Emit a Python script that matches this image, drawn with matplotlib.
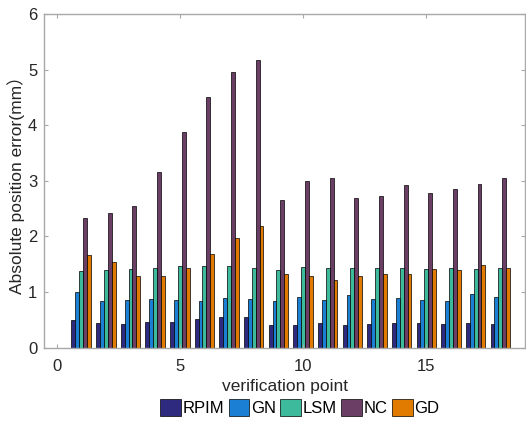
import numpy as np
import matplotlib.pyplot as plt

plt.rcParams['font.family'] = ['Liberation Sans', 'Noto Sans CJK SC', 'DejaVu Sans']

points = np.arange(1, 19)
series = ['RPIM', 'GN', 'LSM', 'NC', 'GD']
rpim = [0.50, 0.44, 0.43, 0.46, 0.46, 0.52, 0.56, 0.56, 0.41, 0.40, 0.44, 0.41, 0.43, 0.44, 0.44, 0.43, 0.44, 0.43]
gn = [1.00, 0.84, 0.85, 0.87, 0.85, 0.83, 0.89, 0.87, 0.83, 0.91, 0.85, 0.95, 0.87, 0.89, 0.86, 0.83, 0.97, 0.91]
lsm = [1.37, 1.39, 1.41, 1.44, 1.46, 1.47, 1.46, 1.44, 1.40, 1.45, 1.44, 1.43, 1.43, 1.43, 1.42, 1.43, 1.42, 1.44]
nc = [2.34, 2.42, 2.55, 3.15, 3.87, 4.50, 4.95, 5.17, 2.65, 2.99, 3.05, 2.69, 2.72, 2.92, 2.79, 2.86, 2.94, 3.05]
gd = [1.67, 1.54, 1.29, 1.29, 1.44, 1.69, 1.97, 2.18, 1.33, 1.29, 1.22, 1.28, 1.33, 1.33, 1.42, 1.40, 1.48, 1.43]
colors = ['#2e2a80', '#1b80d4', '#3dba9b', '#6b3e66', '#e07b00']

fig = plt.figure(figsize=(5.26, 4.25), dpi=100)
ax = fig.add_axes([0.084, 0.182, 0.914, 0.785])

w = 0.158
for i, (vals, c, name) in enumerate(zip([rpim, gn, lsm, nc, gd], colors, series)):
    ax.bar(points + (i - 2) * w, vals, width=w, color=c, edgecolor='black',
           linewidth=0.5, label=name)

ax.set_xlim(-0.5, 19)
ax.set_ylim(0, 6)
ax.set_xticks([0, 5, 10, 15])
ax.set_yticks(range(7))
grey = '#a8a8a8'
for s in ax.spines.values():
    s.set_color(grey)
    s.set_linewidth(1.0)
ax.tick_params(direction='in', length=3, color=grey, labelcolor='#262626',
               labelsize=12, top=True, right=True)
ax.tick_params(axis='x', pad=8)
ax.tick_params(axis='y', pad=5)

ax.set_xlabel('verification point', fontsize=12.5, color='#262626', labelpad=4)
ax.set_ylabel('Absolute position error(mm）', fontsize=12.5, color='#262626', labelpad=2)

fig.legend(loc='lower center', bbox_to_anchor=(0.57, -0.015), ncol=5, frameon=False,
           handlelength=1.25, handleheight=1.25, handletextpad=0.1, columnspacing=0.25,
           fontsize=12)

fig.savefig('out.png', dpi=100)
